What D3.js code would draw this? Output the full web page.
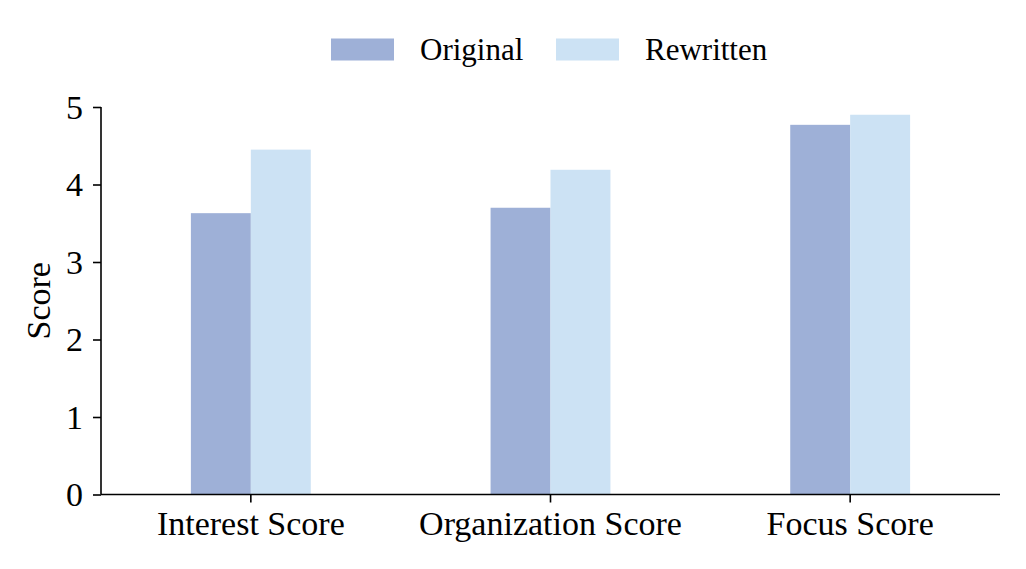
<!DOCTYPE html>
<html><head><meta charset="utf-8">
<script src="https://cdn.jsdelivr.net/npm/d3@7"></script>
<style>body{margin:0;background:#fff}svg{display:block}text{font-family:"Liberation Serif","Times New Roman",serif;fill:#000}</style>
</head><body><svg id="c" width="1026" height="569"></svg>
<script>
const categories = ["Interest Score", "Organization Score", "Focus Score"];
const seriesNames = ["Original", "Rewritten"];
const original = [3.63, 3.70, 4.77];
const rewritten = [4.45, 4.19, 4.90];
const yTicks = [0, 1, 2, 3, 4, 5];
const colors = ["#9EB0D7", "#CCE2F4"];

const svg = d3.select("#c");
const m = {l: 101, r: 1000, t: 107, b: 494.5};
const x = d3.scaleBand().domain(categories).range([m.l, m.r]).padding(0);
const y = d3.scaleLinear().domain([0, 5]).range([m.b, m.t]);
const bw = x.bandwidth() * 0.2;
const series = [original, rewritten];

series.forEach((vals, si) => {
  svg.append("g").selectAll("rect").data(vals).join("rect")
    .attr("x", (d, i) => x(categories[i]) + x.bandwidth() / 2 - bw + si * bw)
    .attr("y", d => y(d))
    .attr("width", bw)
    .attr("height", d => y(0) - y(d))
    .attr("fill", colors[si]);
});

const fs = "34px";
const yAxis = svg.append("g").attr("transform", `translate(${m.l},0)`)
  .call(d3.axisLeft(y).tickValues(yTicks).tickFormat(d3.format("d")).tickSize(8).tickPadding(10));
const xAxis = svg.append("g").attr("transform", `translate(0,${m.b})`)
  .call(d3.axisBottom(x).tickSize(8).tickPadding(6));
[yAxis, xAxis].forEach(a => {
  a.select(".domain").attr("stroke", "#000").attr("stroke-width", 1.6);
  a.selectAll(".tick line").attr("stroke", "#000").attr("stroke-width", 1.6);
  a.selectAll(".tick text").style("font-size", fs).attr("font-family", null);
});
yAxis.select(".domain").attr("d", `M-0,${m.b}V${m.t}`);
xAxis.select(".domain").attr("d", `M${m.l},0H${m.r}`);
yAxis.selectAll(".tick text").attr("dy", "0.33em");
xAxis.selectAll(".tick text").attr("y", 40.5).attr("dy", 0);

svg.append("text").attr("transform", `translate(50,${(m.t + m.b) / 2}) rotate(-90)`)
  .attr("text-anchor", "middle").style("font-size", fs).text("Score");

const legend = svg.append("g");
const lx = [331, 556];
seriesNames.forEach((n, i) => {
  legend.append("rect").attr("x", lx[i]).attr("y", 38.5).attr("width", 63).attr("height", 22).attr("fill", colors[i]);
  legend.append("text").attr("x", lx[i] + 89).attr("y", 60).style("font-size", "31px").text(n);
});
</script></body></html>
